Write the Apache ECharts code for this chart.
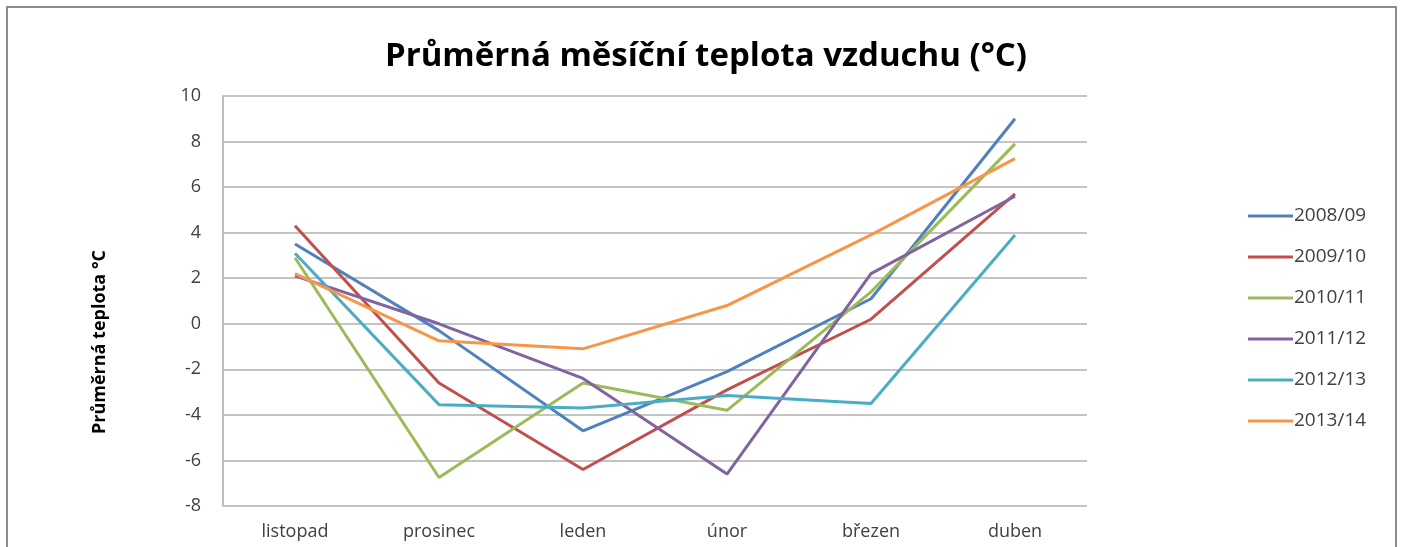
<!DOCTYPE html>
<html>
<head>
<meta charset="utf-8">
<script src="https://cdn.jsdelivr.net/npm/echarts@6/dist/echarts.min.js"></script>
<style>
  html, body { margin: 0; padding: 0; background: #fff; }
  #chart { width: 1402px; height: 547px; }
</style>
</head>
<body>
<div id="chart"></div>
<script>
// měsíce
const months = ['listopad', 'prosinec', 'leden', 'únor', 'březen', 'duben'];
const seasons = ['2008/09', '2009/10', '2010/11', '2011/12', '2012/13', '2013/14'];

// průměrné teploty
const t2008 = [3.5, -0.3, -4.7, -2.1, 1.1, 9.0];
const t2009 = [4.3, -2.6, -6.4, -2.9, 0.2, 5.7];
const t2010 = [2.9, -6.75, -2.6, -3.8, 1.4, 7.9];
const t2011 = [2.1, 0.0, -2.4, -6.6, 2.2, 5.6];
const t2012 = [3.1, -3.55, -3.7, -3.15, -3.5, 3.9];
const t2013 = [2.2, -0.75, -1.1, 0.8, 3.9, 7.25];

const yTicks = {min: -8, max: 10, interval: 2};

// excel 2007 barvy
const colors = ['#4F81BD', '#C0504D', '#9BBB59', '#8064A2', '#4BACC6', '#F79646'];
const seriesValues = [t2008, t2009, t2010, t2011, t2012, t2013];

const font = '"Open Sans", "Noto Sans", sans-serif';

const chart = echarts.init(document.getElementById('chart'));

const option = {
  backgroundColor: '#fff',
  animation: false,
  color: colors,
  textStyle: {fontFamily: font},
  title: {
    text: 'Průměrná měsíční teplota vzduchu (°C)',
    left: 701,
    top: 35,
    textAlign: 'center',
    textStyle: {
      fontFamily: font,
      fontSize: 33,
      fontWeight: 'bold',
      color: '#000'
    }
  },
  graphic: [
    {
      // rámeček kolem celého grafu
      type: 'rect',
      shape: {x: 7, y: 7, width: 1389, height: 600},
      style: {fill: 'none', stroke: '#8c8c8c', lineWidth: 2},
      silent: true
    },
    {
      // popis osy y
      type: 'text',
      x: 100,
      y: 342,
      rotation: Math.PI / 2,
      style: {
        text: 'Průměrná teplota °C',
        fontFamily: font,
        fontSize: 18,
        fontWeight: 'bold',
        fill: '#000',
        align: 'center',
        verticalAlign: 'middle'
      },
      silent: true
    }
  ],
  legend: {
    orient: 'vertical',
    left: 1243,
    top: 201,
    itemWidth: 45,
    itemHeight: 3,
    itemGap: 21,
    icon: 'rect',
    textStyle: {fontFamily: font, fontSize: 19, lineHeight: 20, color: '#404040', padding: [0, 0, 0, -4]},
    data: seasons
  },
  grid: {
    left: 223,
    right: 315,
    top: 96,
    bottom: 41
  },
  xAxis: {
    type: 'category',
    data: months,
    boundaryGap: true,
    axisLine: {show: false},
    axisTick: {show: false},
    axisLabel: {
      fontFamily: font,
      fontSize: 18,
      color: '#404040',
      margin: 17
    }
  },
  yAxis: {
    type: 'value',
    min: yTicks.min,
    max: yTicks.max,
    interval: yTicks.interval,
    axisLine: {show: true, lineStyle: {color: '#bfbfbf', width: 2}},
    axisTick: {show: false},
    axisLabel: {
      fontFamily: font,
      fontSize: 18,
      color: '#404040',
      margin: 22
    },
    splitLine: {lineStyle: {color: '#b0b0b0', width: 1.5}}
  },
  series: seriesValues.map((vals, i) => ({
    name: seasons[i],
    type: 'line',
    data: vals,
    symbol: 'none',
    lineStyle: {width: 3},
    z: 2 + i
  }))
};

chart.setOption(option);
</script>
</body>
</html>
